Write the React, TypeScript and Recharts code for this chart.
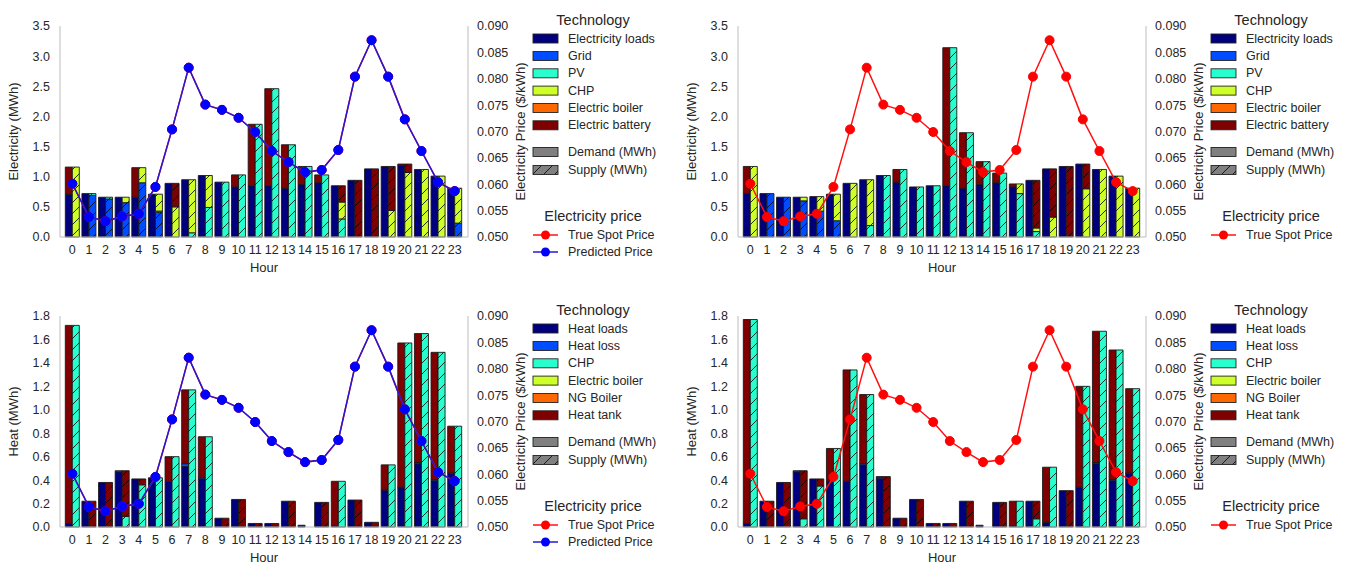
import React from "react";
import { ComposedChart, Bar, Line, XAxis, YAxis } from "recharts";

const hours = [0, 1, 2, 3, 4, 5, 6, 7, 8, 9, 10, 11, 12, 13, 14, 15, 16, 17, 18, 19, 20, 21, 22, 23];

const truePrice = [0.0601, 0.0538, 0.053, 0.0539, 0.0544, 0.0595, 0.0704, 0.0821, 0.0751, 0.0741, 0.0726, 0.0699, 0.0663, 0.0642, 0.0623, 0.0627, 0.0665, 0.0804, 0.0873, 0.0804, 0.0723, 0.0663, 0.0604, 0.0587];
const predictedPrice = [0.0601, 0.0538, 0.053, 0.0539, 0.0544, 0.0595, 0.0704, 0.0821, 0.0751, 0.0741, 0.0726, 0.0699, 0.0663, 0.0642, 0.0623, 0.0627, 0.0665, 0.0804, 0.0873, 0.0804, 0.0723, 0.0663, 0.0604, 0.0587];

const elecTicks = [0, 0.5, 1, 1.5, 2, 2.5, 3, 3.5];
const heatTicks = [0, 0.2, 0.4, 0.6, 0.8, 1.0, 1.2, 1.4, 1.6, 1.8];
const priceTicks = [0.05, 0.055, 0.06, 0.065, 0.07, 0.075, 0.08, 0.085, 0.09];

const elecTech = ["Electricity loads", "Grid", "PV", "CHP", "Electric boiler", "Electric battery"];
const heatTech = ["Heat loads", "Heat loss", "CHP", "Electric boiler", "NG Boiler", "Heat tank"];
const techColors = ["#00007f", "#004cff", "#29ffce", "#ceff29", "#ff6800", "#7f0000"];

// electricity balance, predicted price
const elecLoadsPred = [0.71, 0.72, 0.66, 0.66, 0.66, 0.71, 0.89, 0.95, 1.02, 0.91, 0.83, 0.85, 0.85, 0.81, 0.87, 0.9, 0.85, 0.94, 1.13, 1.17, 1.19, 1.12, 1.01, 0.81];
const elecBattInPred = [0.45, 0, 0, 0, 0.49, 0, 0, 0, 0, 0, 0.2, 1.02, 1.61, 0.72, 0.3, 0.13, 0, 0, 0, 0, 0.02, 0, 0, 0];
const elecGridPred = [0, 0.69, 0.63, 0.57, 0.9, 0.41, 0, 0, 0, 0, 0, 0, 0, 0, 0, 0, 0, 0, 0, 0, 0, 0, 0, 0.23];
const elecPvPred = [0, 0.03, 0.03, 0, 0, 0.02, 0, 0.07, 0.49, 0.91, 1.03, 1.87, 2.46, 1.53, 1.17, 1.03, 0.3, 0, 0, 0, 0, 0, 0, 0];
const elecChpPred = [1.16, 0, 0, 0.09, 0.25, 0.28, 0.5, 0.88, 0.53, 0, 0, 0, 0, 0, 0, 0, 0.28, 0, 0, 0.44, 1.07, 1.12, 1.01, 0.58];
const elecBattOutPred = [0, 0, 0, 0, 0, 0, 0.39, 0, 0, 0, 0, 0, 0, 0, 0, 0, 0.27, 0.94, 1.13, 0.73, 0.14, 0, 0, 0];

// electricity balance, true spot price
const elecLoadsTrue = [0.72, 0.72, 0.66, 0.66, 0.67, 0.71, 0.89, 0.95, 1.02, 0.91, 0.83, 0.85, 0.85, 0.81, 0.87, 0.9, 0.83, 0.94, 1.13, 1.17, 1.21, 1.12, 1.01, 0.81];
const elecBattInTrue = [0.45, 0, 0, 0, 0, 0, 0, 0, 0, 0.21, 0, 0, 2.29, 0.92, 0.38, 0.16, 0.05, 0, 0, 0, 0, 0, 0, 0];
const elecGridTrue = [0, 0.72, 0.66, 0.6, 0.43, 0.27, 0, 0, 0, 0, 0, 0, 0, 0, 0, 0, 0, 0, 0, 0, 0, 0, 0, 0];
const elecPvTrue = [0, 0, 0, 0, 0, 0, 0, 0.19, 1.02, 1.12, 0.83, 0.85, 3.14, 1.73, 1.25, 1.06, 0.72, 0.09, 0, 0, 0, 0, 0, 0];
const elecChpTrue = [1.17, 0, 0, 0.06, 0.24, 0.44, 0.89, 0.76, 0, 0, 0, 0, 0, 0, 0, 0, 0.16, 0.06, 0.33, 0, 0.8, 1.12, 1.01, 0.81];
const elecBattOutTrue = [0, 0, 0, 0, 0, 0, 0, 0, 0, 0, 0, 0, 0, 0, 0, 0, 0, 0.79, 0.8, 1.17, 0.41, 0, 0, 0];

// heat balance, predicted price
const heatLoadsPred = [0.03, 0.22, 0.38, 0.47, 0.41, 0.42, 0.39, 0.515, 0.41, 0.075, 0.235, 0.03, 0.03, 0.22, 0.015, 0.21, 0.01, 0.23, 0.04, 0.315, 0.335, 0.54, 0.395, 0.46];
const heatLossPred = [0, 0, 0, 0.01, 0, 0, 0, 0.025, 0.01, 0, 0, 0, 0, 0, 0, 0, 0, 0, 0, 0, 0.005, 0.01, 0.01, 0];
const heatTankInPred = [1.69, 0, 0, 0, 0, 0, 0.21, 0.63, 0.35, 0, 0, 0, 0, 0, 0, 0, 0.38, 0, 0, 0.215, 1.23, 1.1, 1.085, 0.4];
const heatChpPred = [1.72, 0, 0, 0.09, 0.36, 0.42, 0.6, 1.17, 0.77, 0, 0, 0, 0, 0, 0, 0, 0.39, 0, 0, 0.53, 1.57, 1.65, 1.49, 0.86];
const heatTankOutPred = [0, 0.22, 0.38, 0.39, 0.05, 0, 0, 0, 0, 0.075, 0.235, 0.03, 0.03, 0.22, 0, 0.21, 0, 0.23, 0.04, 0, 0, 0, 0, 0];

// heat balance, true spot price
const heatLoadsTrue = [0.03, 0.22, 0.38, 0.47, 0.41, 0.39, 0.39, 0.53, 0.41, 0.075, 0.235, 0.03, 0.03, 0.22, 0.015, 0.21, 0.01, 0.22, 0.04, 0.31, 0.34, 0.54, 0.395, 0.46];
const heatLossTrue = [0, 0, 0, 0.01, 0, 0, 0, 0.01, 0.01, 0, 0, 0, 0, 0, 0, 0, 0, 0, 0, 0, 0, 0.01, 0.01, 0];
const heatTankInTrue = [1.74, 0, 0, 0, 0, 0.28, 0.95, 0.59, 0.01, 0, 0, 0, 0, 0, 0, 0, 0.21, 0, 0.47, 0, 0.86, 1.12, 1.105, 0.72];
const heatChpTrue = [1.77, 0, 0, 0.07, 0.35, 0.67, 1.34, 1.13, 0, 0, 0, 0, 0, 0, 0, 0, 0.22, 0.07, 0.51, 0, 1.2, 1.67, 1.51, 1.18];
const heatTankOutTrue = [0, 0.22, 0.38, 0.41, 0.06, 0, 0, 0, 0.43, 0.075, 0.235, 0.03, 0.03, 0.22, 0, 0.21, 0, 0.15, 0, 0.31, 0, 0, 0, 0];

type Seg = { tech: number; values: number[] };
type PriceLine = { name: string; color: string; dot: string; values: number[] };

const redLine = { name: "True Spot Price", color: "#ff1010", dot: "#ff0000" };
const blueLine = { name: "Predicted Price", color: "#2418d8", dot: "#0000ff" };

const TEXT = "#262626";
const FRAME = "#bdbdbd";

function TechLegend({ id, names, lines }: { id: string; names: string[]; lines: PriceLine[] }) {
  const rowY = [38.5, 56, 73.3, 90.6, 108, 125.3];
  return (
    <svg style={{ position: "absolute", left: 520, top: 0 }} width={160} height={290}>
      <defs>
        <pattern id={`${id}-lg`} patternUnits="userSpaceOnUse" width={11} height={11}>
          <rect width={11} height={11} fill="#808080" />
          <path d="M0,11 L11,0 M-2,2 L2,-2 M9,13 L13,9" stroke="#000" strokeWidth={0.8} />
        </pattern>
      </defs>
      <text x={73} y={20} textAnchor="middle" dominantBaseline="central" fontSize={14.5} fill={TEXT}>
        Technology
      </text>
      {names.map((n, i) => (
        <g key={n}>
          <rect x={13} y={rowY[i] - 4.5} width={25} height={9} fill={techColors[i]} stroke="#222" strokeWidth={0.9} />
          <text x={48} y={rowY[i]} dominantBaseline="central" fontSize={12.5} fill={TEXT}>
            {n}
          </text>
        </g>
      ))}
      <rect x={13} y={147.5} width={25} height={9} fill="#808080" stroke="#222" strokeWidth={0.9} />
      <text x={48} y={152} dominantBaseline="central" fontSize={12.5} fill={TEXT}>Demand (MWh)</text>
      <rect x={13} y={165.5} width={25} height={9} fill={`url(#${id}-lg)`} stroke="#222" strokeWidth={0.9} />
      <text x={48} y={170} dominantBaseline="central" fontSize={12.5} fill={TEXT}>Supply (MWh)</text>
      <text x={73} y={216} textAnchor="middle" dominantBaseline="central" fontSize={14.5} fill={TEXT}>
        Electricity price
      </text>
      {lines.map((l, i) => (
        <g key={l.name}>
          <line x1={13} x2={38} y1={235 + i * 17} y2={235 + i * 17} stroke={l.color} strokeWidth={1.5} />
          <circle cx={25.5} cy={235 + i * 17} r={4.5} fill={l.dot} />
          <text x={48} y={235 + i * 17} dominantBaseline="central" fontSize={12.5} fill={TEXT}>
            {l.name}
          </text>
        </g>
      ))}
    </svg>
  );
}

function Panel(props: {
  id: string;
  left: number;
  top: number;
  title: string;
  yLabel: string;
  yMax: number;
  yTicks: number[];
  names: string[];
  demand: Seg[];
  supply: Seg[];
  lines: PriceLine[];
}) {
  const { id, left, top, title, yLabel, yMax, yTicks, names, demand, supply, lines } = props;
  const rows = hours.map((h, i) => {
    const r: Record<string, number> = { hour: h };
    demand.forEach((s, k) => (r[`d${k}`] = s.values[i]));
    supply.forEach((s, k) => (r[`s${k}`] = s.values[i]));
    lines.forEach((l, k) => (r[`p${k}`] = l.values[i]));
    return r;
  });
  const tick = { fontSize: 12.5, fill: TEXT };

  return (
    <div style={{ position: "absolute", left, top, width: 680, height: 290 }}>
      <ComposedChart
        width={540}
        height={290}
        data={rows}
        margin={{ top: 26, right: 12, bottom: 13, left: 10 }}
        barCategoryGap={1.3}
        barGap={0}
      >
        <defs>
          {techColors.map((c, t) => (
            <pattern key={t} id={`${id}-h${t}`} patternUnits="userSpaceOnUse" width={11} height={11}>
              <rect width={11} height={11} fill={c} />
              <path d="M0,11 L11,0 M-2,2 L2,-2 M9,13 L13,9" stroke="#000" strokeWidth={0.8} />
            </pattern>
          ))}
        </defs>
        <XAxis
          dataKey="hour"
          interval={0}
          height={40}
          padding={{ left: 4, right: 5 }}
          tickLine={false}
          axisLine={{ stroke: FRAME }}
          tick={tick}
          label={(p: any) => {
            const vb = p.viewBox || { x: 60, y: 237, width: 408 };
            return (
              <text x={vb.x + vb.width / 2} y={vb.y + 35} textAnchor="middle" fontSize={13} fill={TEXT}>
                Hour
              </text>
            );
          }}
        />
        <XAxis
          xAxisId="top"
          orientation="top"
          dataKey="hour"
          height={0}
          padding={{ left: 4, right: 5 }}
          tick={false}
          tickLine={false}
          axisLine={{ stroke: FRAME }}
          label={(p: any) => {
            const vb = p.viewBox || { x: 60, y: 26, width: 408 };
            return (
              <text x={vb.x + vb.width / 2} y={vb.y + (vb.height || 0) - 6} textAnchor="middle" fontSize={15.5} fill={TEXT}>
                {title}
              </text>
            );
          }}
        />
        <YAxis
          yAxisId="mwh"
          width={50}
          domain={[0, yMax]}
          ticks={yTicks}
          tickFormatter={(v: number) => v.toFixed(1)}
          tickLine={false}
          tickMargin={4}
          axisLine={{ stroke: FRAME }}
          tick={tick}
          label={(p: any) => {
            const vb = p.viewBox || { x: 10, y: 26, width: 50, height: 211 };
            const cx = vb.x + 3;
            const cy = vb.y + vb.height / 2;
            return (
              <text x={cx} y={cy} textAnchor="middle" dominantBaseline="central" fontSize={13} fill={TEXT} transform={`rotate(-90, ${cx}, ${cy})`}>
                {yLabel}
              </text>
            );
          }}
        />
        <YAxis
          yAxisId="price"
          orientation="right"
          width={60}
          domain={[0.05, 0.09]}
          ticks={priceTicks}
          tickFormatter={(v: number) => v.toFixed(3)}
          tickLine={false}
          tickMargin={3}
          axisLine={{ stroke: FRAME }}
          tick={tick}
          label={(p: any) => {
            const vb = p.viewBox || { x: 468, y: 26, width: 60, height: 211 };
            const cx = vb.x + 52;
            const cy = vb.y + vb.height / 2;
            return (
              <text x={cx} y={cy} textAnchor="middle" dominantBaseline="central" fontSize={13} fill={TEXT} transform={`rotate(-90, ${cx}, ${cy})`}>
                Electricity Price ($/kWh)
              </text>
            );
          }}
        />
        {demand.map((s, k) => (
          <Bar
            key={`d${k}`}
            dataKey={`d${k}`}
            yAxisId="mwh"
            stackId="d"
            fill={techColors[s.tech]}
            stroke="#1a1a1a"
            strokeWidth={0.9}
            isAnimationActive={false}
          />
        ))}
        {supply.map((s, k) => (
          <Bar
            key={`s${k}`}
            dataKey={`s${k}`}
            yAxisId="mwh"
            stackId="s"
            fill={`url(#${id}-h${s.tech})`}
            stroke="#1a1a1a"
            strokeWidth={0.9}
            isAnimationActive={false}
          />
        ))}
        {lines.map((l, k) => (
          <Line
            key={`p${k}`}
            dataKey={`p${k}`}
            yAxisId="price"
            type="linear"
            stroke={l.color}
            strokeWidth={1.5}
            dot={{ r: 4.5, fill: l.dot, stroke: l.dot, strokeWidth: 1 }}
            activeDot={false}
            isAnimationActive={false}
          />
        ))}
      </ComposedChart>
      <TechLegend id={id} names={names} lines={lines} />
    </div>
  );
}

export default function App() {
  const bothLines: PriceLine[] = [
    { ...redLine, values: truePrice },
    { ...blueLine, values: predictedPrice },
  ];
  const trueLine: PriceLine[] = [{ ...redLine, values: truePrice }];

  return (
    <div
      style={{
        position: "absolute",
        left: 0,
        top: 0,
        width: 1346,
        height: 568,
        background: "#fff",
        fontFamily: '"Liberation Sans", Arial, sans-serif',
      }}
    >
      <Panel
        id="ep"
        left={0}
        top={0}
        title="Electricity Balance"
        yLabel="Electricity (MWh)"
        yMax={3.5}
        yTicks={elecTicks}
        names={elecTech}
        demand={[
          { tech: 0, values: elecLoadsPred },
          { tech: 5, values: elecBattInPred },
        ]}
        supply={[
          { tech: 1, values: elecGridPred },
          { tech: 2, values: elecPvPred },
          { tech: 3, values: elecChpPred },
          { tech: 5, values: elecBattOutPred },
        ]}
        lines={bothLines}
      />
      <Panel
        id="et"
        left={678}
        top={0}
        title="Electricity Balance"
        yLabel="Electricity (MWh)"
        yMax={3.5}
        yTicks={elecTicks}
        names={elecTech}
        demand={[
          { tech: 0, values: elecLoadsTrue },
          { tech: 5, values: elecBattInTrue },
        ]}
        supply={[
          { tech: 1, values: elecGridTrue },
          { tech: 2, values: elecPvTrue },
          { tech: 3, values: elecChpTrue },
          { tech: 5, values: elecBattOutTrue },
        ]}
        lines={trueLine}
      />
      <Panel
        id="hp"
        left={0}
        top={290}
        title="Heat Balance"
        yLabel="Heat (MWh)"
        yMax={1.8}
        yTicks={heatTicks}
        names={heatTech}
        demand={[
          { tech: 0, values: heatLoadsPred },
          { tech: 1, values: heatLossPred },
          { tech: 5, values: heatTankInPred },
        ]}
        supply={[
          { tech: 2, values: heatChpPred },
          { tech: 5, values: heatTankOutPred },
        ]}
        lines={bothLines}
      />
      <Panel
        id="ht"
        left={678}
        top={290}
        title="Heat Balance"
        yLabel="Heat (MWh)"
        yMax={1.8}
        yTicks={heatTicks}
        names={heatTech}
        demand={[
          { tech: 0, values: heatLoadsTrue },
          { tech: 1, values: heatLossTrue },
          { tech: 5, values: heatTankInTrue },
        ]}
        supply={[
          { tech: 2, values: heatChpTrue },
          { tech: 5, values: heatTankOutTrue },
        ]}
        lines={trueLine}
      />
    </div>
  );
}
